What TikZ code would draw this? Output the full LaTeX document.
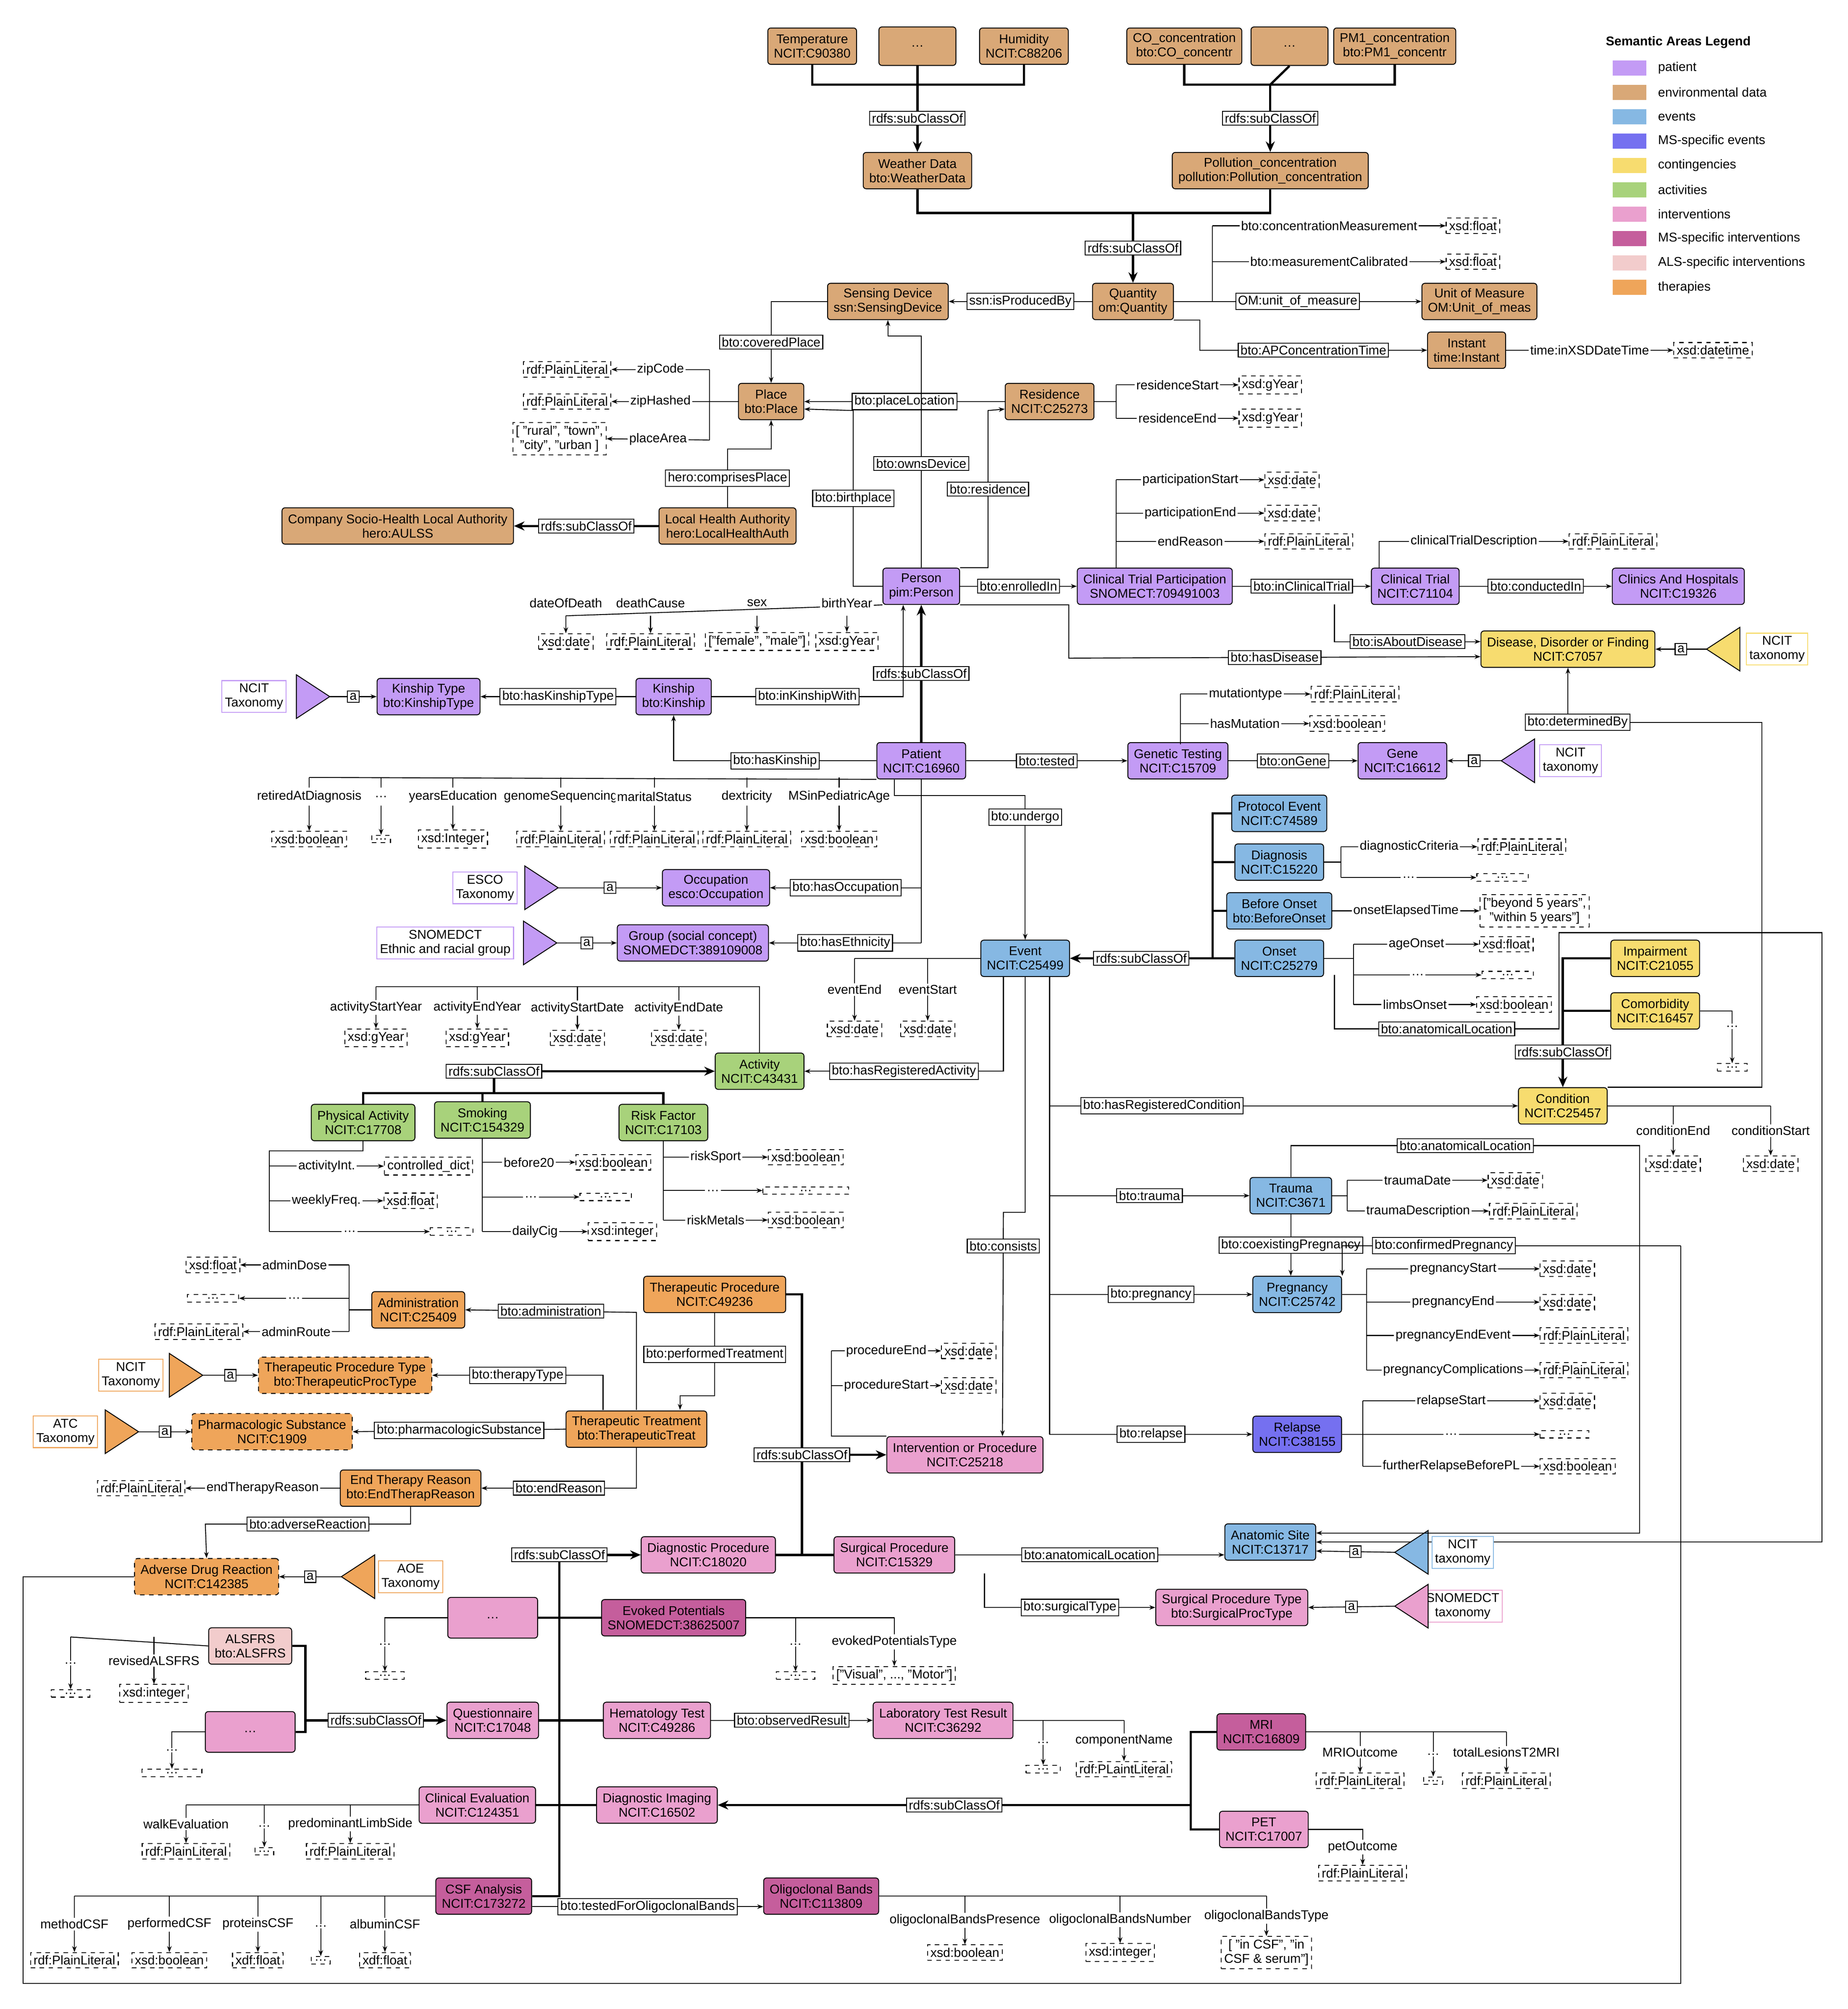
\documentclass[tikz,border=0pt]{standalone}
\usepackage{fontspec}
\setmainfont{Liberation Sans}
\usetikzlibrary{arrows.meta,positioning}
\definecolor{cpat}{HTML}{C39BF5}
\definecolor{cenv}{HTML}{D9A877}
\definecolor{cevt}{HTML}{86B8E3}
\definecolor{cms}{HTML}{7570F0}
\definecolor{ccon}{HTML}{F7DC6F}
\definecolor{cact}{HTML}{A8D27B}
\definecolor{cint}{HTML}{EAA0CE}
\definecolor{cmsi}{HTML}{C55E9C}
\definecolor{cals}{HTML}{F2CCCC}
\definecolor{cthe}{HTML}{EFA55A}
\tikzset{
   box/.style={draw, rounded corners=2pt, align=center, inner xsep=4pt, inner ysep=2pt, minimum height=0.85cm, fill=#1, line width=0.6pt},
   lit/.style={draw, dashed, inner sep=2pt, align=center, fill=white, line width=0.6pt},
   lbl/.style={draw, fill=white, inner sep=1.5pt, line width=0.6pt},
   prop/.style={fill=white, inner sep=1pt},
   taxbox/.style={draw=#1, align=center, inner sep=2pt, fill=white, line width=0.6pt},
   arr/.style={-{Stealth[length=4pt,width=3pt]}},
   sub/.style={-{Stealth[length=7pt,width=6pt]}, line width=1.5pt},
   thk/.style={line width=1.5pt}
}
% triangle of a taxonomy: apex x, apex y, base offset, colour, name
\newcommand{\taxtri}[5]{\filldraw[fill=#4] (#1,#2) -- ++(#3,-17) -- ++(0,34) -- cycle; \coordinate (#5) at (#1,#2);}
\begin{document}
\begin{tikzpicture}[x=0.03cm,y=-0.03cm, font=\fontsize{8.5}{9.5}\selectfont, line width=0.6pt]
\fill[white] (0,0) rectangle (1440,1566);
\useasboundingbox (0,0) rectangle (1440,1566);

% environmental data
\node[box=cenv] (temp) at (633,36) {Temperature\\NCIT:C90380};
\node[box=cenv, minimum width=1.8cm, minimum height=0.9cm] (dots1) at (715,36) {\dots};
\node[box=cenv] (hum) at (798,36) {Humidity\\NCIT:C88206};
\node[box=cenv] (co) at (923,36) {CO\_concentration\\bto:CO\_concentr};
\node[box=cenv, minimum width=1.8cm, minimum height=0.9cm] (dots2) at (1005,36) {\dots};
\node[box=cenv] (pm1) at (1087,36) {PM1\_concentration\\bto:PM1\_concentr};
\node[box=cenv] (weather) at (715,133) {Weather Data\\bto:WeatherData};
\node[box=cenv] (pollution) at (990,133) {Pollution\_concentration\\pollution:Pollution\_concentration};
\node[box=cenv] (quantity) at (883,235) {Quantity\\om:Quantity};
\node[box=cenv] (sensing) at (692,235) {Sensing Device\\ssn:SensingDevice};
\node[box=cenv] (unit) at (1153,235) {Unit of Measure\\OM:Unit\_of\_meas};
\node[box=cenv] (instant) at (1143,273) {Instant\\time:Instant};
\node[box=cenv] (place) at (601,313) {Place\\bto:Place};
\node[box=cenv] (residence) at (818,313) {Residence\\NCIT:C25273};
\node[box=cenv] (localHA) at (567,410) {Local Health Authority\\hero:LocalHealthAuth};
\node[box=cenv] (company) at (310,410) {Company Socio-Health Local Authority\\hero:AULSS};

\draw[thk] (temp.south) |- (715,66) -| (hum.south);
\draw[thk] (dots1.south) -- (715,66);
\draw[sub] (715,66) -- node[lbl]{rdfs:subClassOf} (weather.north);
\draw[thk] (co.south) |- (990,66) -| (pm1.south);
\draw[thk] (dots2.south) -- (990,66);
\draw[sub] (990,66) -- node[lbl]{rdfs:subClassOf} (pollution.north);
\draw[thk] (weather.south) |- (883,166) -| (pollution.south);
\draw[sub] (883,166) -- node[lbl]{rdfs:subClassOf} (quantity.north);

\node[lit] (q1) at (1148,176) {xsd:float};
\node[lit] (q2) at (1148,204) {xsd:float};
\node[lit] (instdt) at (1335,273) {xsd:datetime};
\draw (quantity.east) -| (945,176);
\draw[arr] (945,176) -- node[prop]{bto:concentrationMeasurement} (q1.west);
\draw[arr] (945,204) -- node[prop]{bto:measurementCalibrated} (q2.west);
\draw[arr] (quantity.east) -- node[lbl]{OM:unit\_of\_measure} (unit.west);
\draw[arr] (quantity.south east) -| (935,273) -- node[lbl]{bto:APConcentrationTime} (instant.west);
\draw[arr] (instant.east) -- node[prop]{time:inXSDDateTime} (instdt.west);
\draw[arr] (quantity.west) -- node[lbl]{ssn:isProducedBy} (sensing.east);
\draw[arr] (sensing.west) -| node[lbl,pos=0.75]{bto:coveredPlace} (place.north);

\node[lit] (pl1) at (442,288) {rdf:PlainLiteral};
\node[lit] (pl2) at (442,313) {rdf:PlainLiteral};
\node[lit] (pl3) at (436,342) {[ "rural", "town",\\"city", "urban ]};
\draw (place.west) -- (553,313);
\draw (553,288) -- (553,343);
\draw[arr] (553,288) -- node[prop]{zipCode} (pl1.east);
\draw[arr] (553,313) -- node[prop]{zipHashed} (pl2.east);
\draw[arr] (553,343) -- node[prop]{placeArea} (pl3.east);

\node[lit] (r1) at (990,300) {xsd:gYear};
\node[lit] (r2) at (990,326) {xsd:gYear};
\draw (residence.east) -- (870,313);
\draw (870,300) -- (870,326);
\draw[arr] (870,300) -- node[prop]{residenceStart} (r1.west);
\draw[arr] (870,326) -- node[prop]{residenceEnd} (r2.west);
\draw[arr] (residence.west) -- node[lbl]{bto:placeLocation} (place.east);

\draw[arr] (localHA.north) -- node[lbl]{hero:comprisesPlace} (567,350) -| (place.south);
\draw[sub] (localHA.west) -- node[lbl]{rdfs:subClassOf} (company.east);

% patient
\node[box=cpat] (person) at (718,457) {Person\\pim:Person};
\node[box=cpat] (patient) at (718,593) {Patient\\NCIT:C16960};
\node[box=cpat] (kinship) at (525,543) {Kinship\\bto:Kinship};
\node[box=cpat] (ktype) at (334,543) {Kinship Type\\bto:KinshipType};
\node[box=cpat] (occupation) at (558,692) {Occupation\\esco:Occupation};
\node[box=cpat] (group) at (540,735) {Group (social concept)\\SNOMEDCT:389109008};

\draw[arr] (person.north) -- node[lbl,pos=0.45]{bto:ownsDevice} (718,262) -| (sensing.south);
\draw[arr] (person.west) -| node[lbl,pos=0.75]{bto:birthplace} (665,320) -- ([yshift=-5pt]place.east);
\draw[arr] (person.north east) -| node[lbl,pos=0.75]{bto:residence} (770,320) -- ([yshift=-5pt]residence.west);

\draw (person.south west) -- (441,480);
\foreach \x/\p/\l in {441/dateOfDeath/xsd:date, 507/deathCause/rdf:PlainLiteral, 590/sex/{["female", "male"]}, 660/birthYear/xsd:gYear}{
  \node[prop] at (\x,470) {\p};
  \node[lit] (pp\x) at (\x,500) {\l};
  \draw[arr] (\x,480) -- (pp\x.north);
}

\node[box=cpat] (ctp) at (900,457) {Clinical Trial Participation\\SNOMECT:709491003};
\node[box=cpat] (ctrial) at (1103,457) {Clinical Trial\\NCIT:C71104};
\node[box=cpat] (clinics) at (1308,457) {Clinics And Hospitals\\NCIT:C19326};
\node[box=ccon] (disease) at (1222,506) {Disease, Disorder or Finding\\NCIT:C7057};
\draw[arr] (person.east) -- node[lbl]{bto:enrolledIn} (ctp.west);
\node[lit] (c1) at (1007,374) {xsd:date};
\node[lit] (c2) at (1007,400) {xsd:date};
\node[lit] (c3) at (1020,422) {rdf:PlainLiteral};
\draw (870,443) -- (870,374);
\draw[arr] (870,374) -- node[prop]{participationStart} (c1.west);
\draw[arr] (870,400) -- node[prop]{participationEnd} (c2.west);
\draw[arr] (870,422) -- node[prop]{endReason} (c3.west);
\draw[arr] (ctp.east) -- node[lbl]{bto:inClinicalTrial} (ctrial.west);
\draw[arr] (ctrial.east) -- node[lbl]{bto:conductedIn} (clinics.west);
\node[lit] (ct1) at (1257,422) {rdf:PlainLiteral};
\draw[arr] (1075,443) |- node[prop,pos=0.75]{clinicalTrialDescription} (ct1.west);
\draw[arr] (1040,471) |- node[lbl,pos=0.75]{bto:isAboutDisease} ([yshift=5pt]disease.west);
\draw[arr] (person.south east) -| (833,513) -- node[lbl]{bto:hasDisease} ([yshift=-5pt]disease.west);
\node[taxbox=ccon] (taxDis) at (1385,506) {NCIT\\taxonomy};
\taxtri{1330}{506}{26}{ccon}{triDis}
\draw[arr] (triDis) -- node[lbl]{a} (disease.east);

\draw[sub] (patient.north) -- node[lbl]{rdfs:subClassOf} (person.south);
\draw[arr] (patient.west) -| node[lbl,pos=0.25]{bto:hasKinship} (kinship.south);
\draw[arr] (kinship.east) -| node[lbl,pos=0.25]{bto:inKinshipWith} ([xshift=-12pt]person.south);
\draw[arr] (kinship.west) -- node[lbl]{bto:hasKinshipType} (ktype.east);
\node[taxbox=cpat] (taxKin) at (198,543) {NCIT\\Taxonomy};
\taxtri{257}{543}{-26}{cpat}{triKin}
\draw[arr] (triKin) -- node[lbl]{a} (ktype.west);

\draw (patient.south west) -- (241,606);
\foreach \x/\p/\l in {241/retiredAtDiagnosis/xsd:boolean, 297/\dots/\dots, 353/yearsEducation/xsd:Integer, 437/genomeSequencing/rdf:PlainLiteral, 510/maritalStatus/rdf:PlainLiteral, 582/dextricity/rdf:PlainLiteral, 654/MSinPediatricAge/xsd:boolean}{
  \node[prop] at (\x,621) {\p};
  \node[lit] (pa\x) at (\x,654) {\l};
  \draw (\x,606) -- (\x,614);
  \draw[arr] (\x,628) -- (pa\x.north);
}

\node[box=cpat] (genetic) at (918,593) {Genetic Testing\\NCIT:C15709};
\node[box=cpat] (gene) at (1093,593) {Gene\\NCIT:C16612};
\draw[arr] (patient.east) -- node[lbl]{bto:tested} (genetic.west);
\node[lit] (g1) at (1056,541) {rdf:PlainLiteral};
\node[lit] (g2) at (1050,564) {xsd:boolean};
\draw (920,580) -- (920,541);
\draw[arr] (920,541) -- node[prop]{mutationtype} (g1.west);
\draw[arr] (920,564) -- node[prop]{hasMutation} (g2.west);
\draw[arr] (genetic.east) -- node[lbl]{bto:onGene} (gene.west);
\node[taxbox=cpat] (taxGene) at (1224,593) {NCIT\\taxonomy};
\taxtri{1170}{593}{26}{cpat}{triGene}
\draw[arr] (triGene) -- node[lbl]{a} (gene.east);

\draw (718,607) -- (718,735);
\draw[arr] (718,692) -- node[lbl]{bto:hasOccupation} (occupation.east);
\draw[arr] (718,735) -- node[lbl]{bto:hasEthnicity} (group.east);
\node[taxbox=cpat] (taxEsco) at (378,692) {ESCO\\Taxonomy};
\taxtri{435}{692}{-26}{cpat}{triEsco}
\draw[arr] (triEsco) -- node[lbl]{a} (occupation.west);
\node[taxbox=cpat] (taxSno) at (347,735) {SNOMEDCT\\Ethnic and racial group};
\taxtri{434}{735}{-26}{cpat}{triSno}
\draw[arr] (triSno) -- node[lbl]{a} (group.west);

% events
\node[box=cevt] (event) at (799,747) {Event\\NCIT:C25499};
\node[box=cevt] (protocol) at (997,634) {Protocol Event\\NCIT:C74589};
\node[box=cevt] (diagnosis) at (997,672) {Diagnosis\\NCIT:C15220};
\node[box=cevt] (beforeonset) at (997,710) {Before Onset\\bto:BeforeOnset};
\node[box=cevt] (onset) at (997,747) {Onset\\NCIT:C25279};
\draw[arr] ([xshift=-18pt]patient.south) |- (799,620) -- node[lbl,pos=0.15]{bto:undergo} (event.north);
\draw[thk] (protocol.west) -| (945,747) -- (onset.west);
\draw[thk] (diagnosis.west) -- (945,672);
\draw[thk] (beforeonset.west) -- (945,710);
\draw[sub] (945,747) -- node[lbl]{rdfs:subClassOf} (event.east);

\node[lit] (d1) at (1186,660) {rdf:PlainLiteral};
\node[lit, minimum width=1.2cm] (d2) at (1171,684) {\dots};
\draw (diagnosis.east) -- (1045,672);
\draw (1045,660) -- (1045,684);
\draw[arr] (1045,660) -- node[prop]{diagnosticCriteria} (d1.west);
\draw[arr] (1045,684) -- node[prop]{\dots} (d2.west);
\node[lit] (b1) at (1196,710) {["beyond 5 years",\\"within 5 years"]};
\draw[arr] (beforeonset.east) -- node[prop]{onsetElapsedTime} (b1.west);
\node[lit] (o1) at (1174,736) {xsd:float};
\node[lit, minimum width=1.2cm] (o2) at (1175,760) {\dots};
\node[lit] (o3) at (1180,783) {xsd:boolean};
\draw (onset.east) -- (1055,747);
\draw (1055,736) -- (1055,783);
\draw[arr] (1055,736) -- node[prop]{ageOnset} (o1.west);
\draw[arr] (1055,760) -- node[prop]{\dots} (o2.west);
\draw[arr] (1055,783) -- node[prop]{limbsOnset} (o3.west);

\node[box=ccon] (impairment) at (1290,747) {Impairment\\NCIT:C21055};
\node[box=ccon] (comorbidity) at (1290,788) {Comorbidity\\NCIT:C16457};
\node[box=ccon] (condition) at (1218,862) {Condition\\NCIT:C25457};
\draw[thk] (impairment.west) -| (1218,805);
\draw[thk] (comorbidity.west) -- (1218,788);
\draw[sub] (1218,805) -- node[lbl,pos=0.35]{rdfs:subClassOf} (condition.north);
\node[prop] (cm1) at (1350,800) {\dots};
\node[lit, minimum width=0.7cm] (cm2) at (1350,832) {\dots};
\draw (comorbidity.east) -| (cm1.north);
\draw[arr] (cm1.south) -- (cm2.north);
\draw[arr] (condition.north east) -| (1373,563) -- node[lbl,pos=0.95]{bto:determinedBy} (1222,563) -- (disease.south);
\draw[arr] (818,761) |- node[lbl,pos=0.62]{bto:hasRegisteredCondition} (condition.west);
\node[lit] (ce) at (1304,907) {xsd:date};
\node[lit] (cs) at (1380,907) {xsd:date};
\draw (condition.east) -- (1380,862);
\draw[arr] (1304,862) -- node[prop]{conditionEnd} (ce.north);
\draw[arr] (1380,862) -- node[prop]{conditionStart} (cs.north);

% anatomical site
\node[box=cevt] (anatomic) at (990,1202) {Anatomic Site\\NCIT:C13717};
\draw[arr] (1040,760) |- node[lbl,pos=0.75]{bto:anatomicalLocation} (1215,802) -- (1215,727) -- (1420,727) |- (anatomic.east);
\node[taxbox=cevt] (taxAna) at (1140,1210) {NCIT\\taxonomy};
\taxtri{1087}{1210}{26}{cevt}{triAna}
\draw[arr] (triAna) -- node[lbl]{a} ([yshift=-6pt]anatomic.east);

% event properties
\node[lit] (ee) at (666,802) {xsd:date};
\node[lit] (es) at (723,802) {xsd:date};
\draw (event.west) -- (666,747);
\draw[arr] (666,747) -- node[prop]{eventEnd} (ee.north);
\draw[arr] (723,747) -- node[prop]{eventStart} (es.north);

% activities
\node[box=cact] (activity) at (592,835) {Activity\\NCIT:C43431};
\node[box=cact] (physical) at (283,875) {Physical Activity\\NCIT:C17708};
\node[box=cact] (smoking) at (376,873) {Smoking\\NCIT:C154329};
\node[box=cact] (riskfactor) at (517,875) {Risk Factor\\NCIT:C17103};
\draw[arr] (782,761) |- node[lbl,pos=0.75]{bto:hasRegisteredActivity} (activity.east);
\draw (activity.north) |- (293,769);
\foreach \x/\p/\l in {293/activityStartYear/xsd:gYear, 372/activityEndYear/xsd:gYear, 450/activityStartDate/xsd:date, 529/activityEndDate/xsd:date}{
  \node[lit] (ac\x) at (\x,809) {\l};
  \draw[arr] (\x,769) -- node[prop]{\p} (ac\x.north);
}
\draw[thk] (physical.north) |- (517,852) -| (riskfactor.north);
\draw[thk] (smoking.north) -- (376,852);
\draw[sub] (385,852) -- (385,835) -- (activity.west);
\node[lbl] at (385,835) {rdfs:subClassOf};

\node[lit] (p1) at (334,909) {controlled\_dict};
\node[lit] (p2) at (320,936) {xsd:float};
\node[lit, minimum width=1cm] (p3) at (352,960) {\dots};
\draw (physical.south) |- (210,897) -- (210,960);
\draw[arr] (210,909) -- node[prop]{activityInt.} (p1.west);
\draw[arr] (210,936) -- node[prop]{weeklyFreq.} (p2.west);
\draw[arr] (210,960) -- node[prop]{\dots} (p3.west);
\node[lit] (s1) at (478,906) {xsd:boolean};
\node[lit, minimum width=1.2cm] (s2) at (472,933) {\dots};
\node[lit] (s3) at (485,960) {xsd:integer};
\draw (smoking.south) -- (376,960);
\draw[arr] (376,906) -- node[prop]{before20} (s1.west);
\draw[arr] (376,933) -- node[prop]{\dots} (s2.west);
\draw[arr] (376,960) -- node[prop]{dailyCig} (s3.west);
\node[lit] (k1) at (628,902) {xsd:boolean};
\node[lit, minimum width=2cm] (k2) at (628,928) {\dots};
\node[lit] (k3) at (628,951) {xsd:boolean};
\draw (riskfactor.south) -- (517,951);
\draw[arr] (517,902) -- node[prop]{riskSport} (k1.west);
\draw[arr] (517,928) -- node[prop]{\dots} (k2.west);
\draw[arr] (517,951) -- node[prop]{riskMetals} (k3.west);

% trauma, pregnancy, relapse
\node[box=cevt] (trauma) at (1006,932) {Trauma\\NCIT:C3671};
\node[box=cevt] (pregnancy) at (1011,1009) {Pregnancy\\NCIT:C25742};
\node[box=cms] (relapse) at (1011,1118) {Relapse\\NCIT:C38155};
\draw (818,761) -- (818,1118);
\draw[arr] (818,932) -- node[lbl]{bto:trauma} (trauma.west);
\draw[arr] (818,1009) -- node[lbl]{bto:pregnancy} (pregnancy.west);
\draw[arr] (818,1118) -- node[lbl]{bto:relapse} (relapse.west);
\node[lit] (t1) at (1181,920) {xsd:date};
\node[lit] (t2) at (1195,944) {rdf:PlainLiteral};
\draw (trauma.east) -- (1050,932);
\draw (1050,920) -- (1050,944);
\draw[arr] (1050,920) -- node[prop]{traumaDate} (t1.west);
\draw[arr] (1050,944) -- node[prop]{traumaDescription} (t2.west);
\draw[arr] (trauma.north) |- node[lbl,pos=0.75]{bto:anatomicalLocation} (1278,893) |- ([yshift=6pt]anatomic.east);
\draw[arr] (trauma.south) -- node[lbl]{bto:coexistingPregnancy} (trauma.south |- pregnancy.north);
\draw[arr] (1310,971) -| node[lbl,pos=0.35]{bto:confirmedPregnancy} ([xshift=30pt]pregnancy.north);
\draw (pregnancy.east) -- (1065,1009);
\draw (1065,989) -- (1065,1068);
\foreach \y/\p/\l in {989/pregnancyStart/xsd:date, 1015/pregnancyEnd/xsd:date, 1041/pregnancyEndEvent/rdf:PlainLiteral, 1068/pregnancyComplications/rdf:PlainLiteral}{
  \node[lit, anchor=west] (pg\y) at (1200,\y) {\l};
  \draw[arr] (1065,\y) -- node[prop]{\p} (pg\y.west);
}
\draw (relapse.east) -- (1062,1118);
\draw (1062,1092) -- (1062,1143);
\foreach \y/\p/\l in {1092/relapseStart/xsd:date, 1118/\dots/{\makebox[1cm]{\dots}}, 1143/furtherRelapseBeforePL/xsd:boolean}{
  \node[lit, anchor=west] (rl\y) at (1200,\y) {\l};
  \draw[arr] (1062,\y) -- node[prop]{\p} (rl\y.west);
}

% interventions and therapies
\node[box=cint] (intervention) at (752,1134) {Intervention or Procedure\\NCIT:C25218};
\node[box=cthe] (therproc) at (557,1009) {Therapeutic Procedure\\NCIT:C49236};
\node[box=cthe] (admin) at (326,1021) {Administration\\NCIT:C25409};
\node[box=cthe, dashed] (therproctype) at (269,1072) {Therapeutic Procedure Type\\bto:TherapeuticProcType};
\node[box=cthe, dashed] (pharma) at (212,1116) {Pharmacologic Substance\\NCIT:C1909};
\node[box=cthe] (thertreat) at (496,1114) {Therapeutic Treatment\\bto:TherapeuticTreat};
\node[box=cthe] (endtherapy) at (320,1160) {End Therapy Reason\\bto:EndTherapReason};
\node[box=cthe, dashed] (adverse) at (161,1229) {Adverse Drug Reaction\\NCIT:C142385};

\draw[arr] (799,761) |- (782,945) -- node[lbl,pos=0.15]{bto:consists} ([xshift=25pt]intervention.north);
\node[lit] (iv1) at (755,1053) {xsd:date};
\node[lit] (iv2) at (755,1080) {xsd:date};
\draw (intervention.north west) -| (648,1053);
\draw[arr] (648,1053) -- node[prop]{procedureEnd} (iv1.west);
\draw[arr] (648,1080) -- node[prop]{procedureStart} (iv2.west);

\draw[thk] (therproc.east) -| (625,1212);
\draw[sub] (625,1134) -- node[lbl,pos=0]{rdfs:subClassOf} (intervention.west);
\draw[arr] (496,1099) -- (496,1023) -- node[lbl]{bto:administration} (admin.east);
\draw[arr] (470,1099) |- node[lbl,pos=0.75]{bto:therapyType} (therproctype.east);
\draw[arr] (therproc.south) -- node[lbl]{bto:performedTreatment} (557,1088) -| (530,1099);
\draw[arr] (thertreat.west) -- node[lbl]{bto:pharmacologicSubstance} (pharma.east);
\draw[arr] (thertreat.south) |- node[lbl,pos=0.75]{bto:endReason} (endtherapy.east);

\node[lit] (ad1) at (166,986) {xsd:float};
\node[lit, minimum width=1.2cm] (ad2) at (166,1012) {\dots};
\node[lit] (ad3) at (155,1038) {rdf:PlainLiteral};
\draw (admin.west) -- (272,1021);
\draw (272,986) -- (272,1038);
\draw[arr] (272,986) -- node[prop]{adminDose} (ad1.east);
\draw[arr] (272,1012) -- node[prop]{\dots} (ad2.east);
\draw[arr] (272,1038) -- node[prop]{adminRoute} (ad3.east);
\node[taxbox=cthe] (taxTpt) at (102,1072) {NCIT\\Taxonomy};
\taxtri{158}{1072}{-26}{cthe}{triTpt}
\draw[arr] (triTpt) -- node[lbl]{a} (therproctype.west);
\node[taxbox=cthe] (taxAtc) at (51,1116) {ATC\\Taxonomy};
\taxtri{108}{1116}{-26}{cthe}{triAtc}
\draw[arr] (triAtc) -- node[lbl]{a} (pharma.west);
\node[lit] (et1) at (110,1160) {rdf:PlainLiteral};
\draw[arr] (endtherapy.west) -- node[prop]{endTherapyReason} (et1.east);
\draw[arr] (endtherapy.south) |- node[lbl,pos=0.75]{bto:adverseReaction} (160,1188) -- (adverse.north);
\node[taxbox=cthe] (taxAoe) at (320,1229) {AOE\\Taxonomy};
\taxtri{266}{1229}{26}{cthe}{triAoe}
\draw[arr] (triAoe) -- node[lbl]{a} (adverse.east);
\draw (adverse.west) -| (18,1546) -| (1310,971);

% diagnostic and surgical procedures
\node[box=cint] (diagproc) at (552,1212) {Diagnostic Procedure\\NCIT:C18020};
\node[box=cint] (surgproc) at (697,1212) {Surgical Procedure\\NCIT:C15329};
\node[box=cint] (surgtype) at (960,1253) {Surgical Procedure Type\\bto:SurgicalProcType};
\node[box=cint, minimum width=2.1cm, minimum height=0.95cm] (dotsP) at (384,1261) {\dots};
\node[box=cmsi] (evoked) at (525,1261) {Evoked Potentials\\SNOMEDCT:38625007};
\node[box=cals] (alsfrs) at (195,1283) {ALSFRS\\bto:ALSFRS};
\node[box=cint, minimum width=2.1cm, minimum height=0.95cm] (dotsP2) at (195,1350) {\dots};
\node[box=cint] (questionnaire) at (384,1341) {Questionnaire\\NCIT:C17048};
\node[box=cint] (hemato) at (512,1341) {Hematology Test\\NCIT:C49286};
\node[box=cint] (labresult) at (735,1341) {Laboratory Test Result\\NCIT:C36292};
\node[box=cint] (clineval) at (372,1407) {Clinical Evaluation\\NCIT:C124351};
\node[box=cint] (diagimg) at (512,1407) {Diagnostic Imaging\\NCIT:C16502};
\node[box=cmsi] (mri) at (983,1350) {MRI\\NCIT:C16809};
\node[box=cint] (pet) at (985,1426) {PET\\NCIT:C17007};
\node[box=cmsi] (csf) at (377,1478) {CSF Analysis\\NCIT:C173272};
\node[box=cmsi] (oligo) at (640,1478) {Oligoclonal Bands\\NCIT:C113809};

\draw[thk] (diagproc.east) -- (surgproc.west);
\draw[thk] (436,1212) -- (436,1478) -- (csf.east);
\draw[sub] (436,1212) -- (diagproc.west);
\node[lbl] at (436,1212) {rdfs:subClassOf};
\draw[thk] (dotsP.east) -- (evoked.west);
\draw[thk] (questionnaire.east) -- (hemato.west);
\draw[thk] (clineval.east) -- (diagimg.west);

\draw[arr] (surgproc.east) -- node[lbl]{bto:anatomicalLocation} (anatomic.west |- surgproc.east);
\draw[arr] ([xshift=60pt]surgproc.south) |- node[lbl,pos=0.75]{bto:surgicalType} (surgtype.west);
\node[taxbox=cint] (taxSur) at (1140,1252) {SNOMEDCT\\taxonomy};
\taxtri{1087}{1252}{26}{cint}{triSur}
\draw[arr] (triSur) -- node[lbl]{a} (surgtype.east);

\draw[thk] (alsfrs.east) -| (238,1350) -- (dotsP2.east);
\draw[sub] (238,1341) -- node[lbl]{rdfs:subClassOf} (questionnaire.west);
\node[lit, minimum width=0.9cm] (al1) at (55,1320) {\dots};
\node[lit] (al2) at (120,1320) {xsd:integer};
\node[lit, minimum width=1.4cm] (al3) at (134,1382) {\dots};
\node[lit, minimum width=0.9cm] (dp1) at (300,1306) {\dots};
\draw (alsfrs.west) -- (55,1276);
\draw[arr] (55,1276) -- node[prop]{\dots} (al1.north);
\draw[arr] (120,1276) -- node[prop]{revisedALSFRS} (al2.north);
\draw[arr] (dotsP2.west) -| node[prop,pos=0.75]{\dots} (al3.north);
\draw[arr] (dotsP.west) -| node[prop,pos=0.75]{\dots} (dp1.north);

\node[lit, minimum width=0.9cm] (ev1) at (620,1306) {\dots};
\node[lit] (ev2) at (697,1306) {["Visual", ..., "Motor"]};
\draw (evoked.east) -- (697,1261);
\draw[arr] (620,1261) -- node[prop]{\dots} (ev1.north);
\draw[arr] (697,1261) -- node[prop]{evokedPotentialsType} (ev2.north);

\draw[arr] (hemato.east) -- node[lbl]{bto:observedResult} (labresult.west);
\node[lit, minimum width=0.8cm] (lr1) at (813,1379) {\dots};
\node[lit] (lr2) at (876,1379) {rdf:PLaintLiteral};
\draw (labresult.east) -- (876,1341);
\draw[arr] (813,1341) -- node[prop]{\dots} (lr1.north);
\draw[arr] (876,1341) -- node[prop]{componentName} (lr2.north);

\draw[thk] (mri.west) -| (928,1426) -- (pet.west);
\draw[sub] (928,1407) -- node[lbl]{rdfs:subClassOf} (diagimg.east);
\draw (mri.east) -- (1174,1350);
\foreach \x/\p/\l in {1060/MRIOutcome/rdf:PlainLiteral, 1117/\dots/\dots, 1174/totalLesionsT2MRI/rdf:PlainLiteral}{
  \node[lit] (mr\x) at (\x,1388) {\l};
  \draw[arr] (\x,1350) -- node[prop]{\p} (mr\x.north);
}
\node[lit] (pt1) at (1062,1460) {rdf:PlainLiteral};
\draw[arr] (pet.east) -| node[prop,pos=0.75]{petOutcome} (pt1.north);

\draw (clineval.west) -- (145,1407);
\foreach \x/\p/\l in {145/walkEvaluation/rdf:PlainLiteral, 206/\dots/\dots, 273/predominantLimbSide/rdf:PlainLiteral}{
  \node[lit] (cv\x) at (\x,1443) {\l};
  \draw[arr] (\x,1407) -- node[prop]{\p} (cv\x.north);
}
\draw (csf.west) -- (58,1478);
\foreach \x/\p/\l in {58/methodCSF/rdf:PlainLiteral, 132/performedCSF/xsd:boolean, 201/proteinsCSF/xdf:float, 250/\dots/\dots, 300/albuminCSF/xdf:float}{
  \node[lit] (cf\x) at (\x,1528) {\l};
  \draw[arr] (\x,1478) -- node[prop]{\p} (cf\x.north);
}
\draw[arr] ([yshift=-7pt]csf.east) -- node[lbl]{bto:testedForOligoclonalBands} ([yshift=-7pt]oligo.west);
\draw (oligo.east) -- (987,1478);
\foreach \x/\p/\l in {752/oligoclonalBandsPresence/xsd:boolean, 873/oligoclonalBandsNumber/xsd:integer, 987/oligoclonalBandsType/{[ "in CSF", "in\\CSF \& serum"]}}{
  \node[lit] (ob\x) at (\x,1522) {\l};
  \draw[arr] (\x,1478) -- node[prop]{\p} (ob\x.north);
}

% legend
\node[font=\fontsize{8.5}{9.5}\selectfont\bfseries] at (1308,33) {Semantic Areas Legend};
\foreach \c/\t [count=\i] in {cpat/patient, cenv/environmental data, cevt/events, cms/MS-specific events, ccon/contingencies, cact/activities, cint/interventions, cmsi/MS-specific interventions, cals/ALS-specific interventions, cthe/therapies}{
  \fill[\c] (1257,{34+19*\i-6}) rectangle (1283,{34+19*\i+6});
  \node[anchor=west] at (1288,34+19*\i) {\t};
}
\end{tikzpicture}
\end{document}
